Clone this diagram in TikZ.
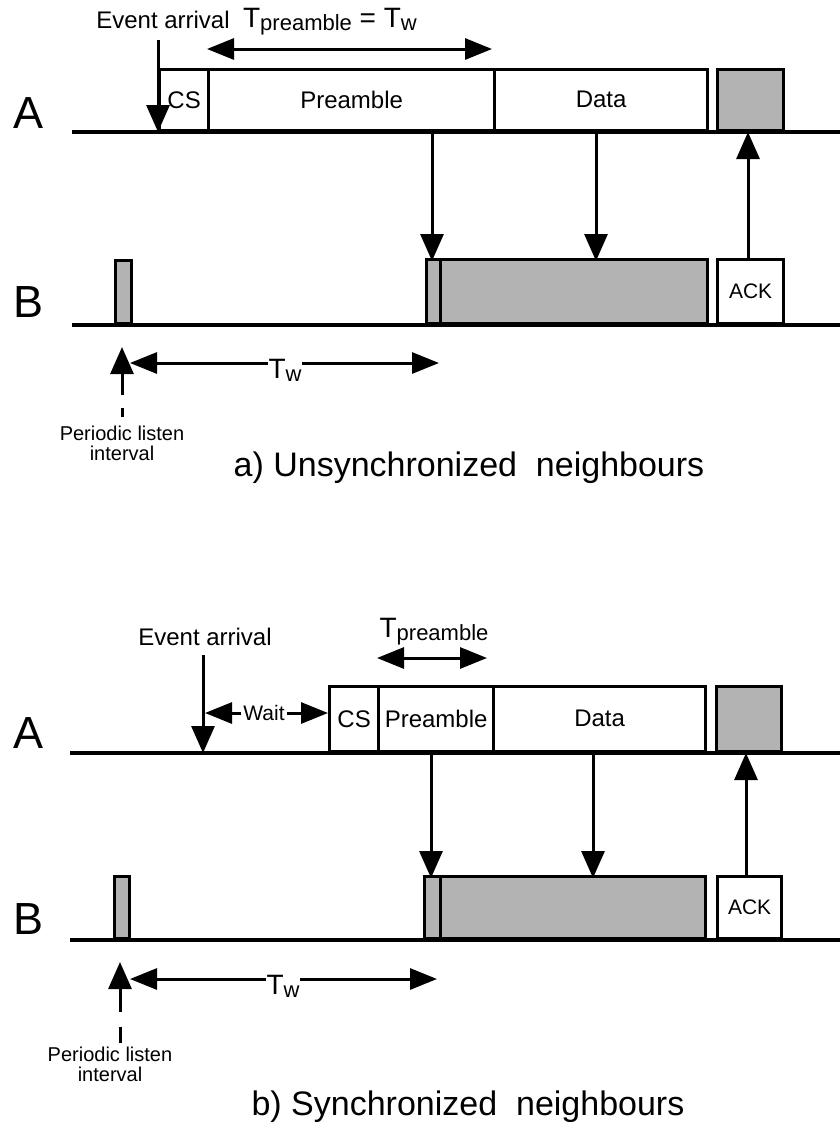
\documentclass[tikz,border=0pt]{standalone}
\usepackage{fontspec}
\setmainfont{Liberation Sans}
\usetikzlibrary{arrows.meta}
\definecolor{busygray}{HTML}{B3B3B3}
\newcommand{\fsz}[1]{\fontsize{#1}{#1}\selectfont}
\newcommand{\Tsub}[1]{{\fsz{28}T}\raisebox{-0.32em}{\fsz{22}#1}}

\tikzset{
  sig/.style={line width=3.3pt},
  slot/.style={draw, line width=3.3pt, inner sep=0pt, anchor=south west, font=\fsz{24}},
  busy/.style={slot, fill=busygray},
  msg/.style={-{Triangle[length=27pt,width=23pt]}, line width=3pt},
  span/.style={{Triangle[length=27pt,width=21pt]}-{Triangle[length=27pt,width=21pt]}, line width=3pt},
  station/.style={font=\fsz{45}, inner sep=0pt},
  note/.style={font=\fsz{24}, inner sep=0pt},
  small/.style={font=\fsz{20}, inner sep=0pt, align=center},
  caption/.style={font=\fsz{34}, inner sep=0pt},
}

\begin{document}
\begin{tikzpicture}[x=1pt, y=-1pt]
\useasboundingbox (0,0) rectangle (840,1136);

% ---------------- a) Unsynchronized neighbours ----------------
\node[station] (Aa) at (29,113) {A};
\node[station] (Ba) at (29,302) {B};
\coordinate (Aa0) at (72,132);  \coordinate (Aa1) at (840,132);
\coordinate (Ba0) at (72,325);  \coordinate (Ba1) at (840,325);
\draw[sig] (Aa0) -- (Aa1);
\draw[sig] (Ba0) -- (Ba1);

% sender A
\node[slot, minimum width=49pt,  minimum height=61pt] (csa)   at (158,132) {CS};
\node[slot, minimum width=286pt, minimum height=61pt] (prea)  at (207,132) {Preamble};
\node[slot, minimum width=213pt, minimum height=61pt] (dataa) at (493,132) {Data};
\node[busy, minimum width=66pt,  minimum height=61pt] (acka)  at (716,132) {};

% receiver B
\node[busy, minimum width=16pt,  minimum height=63pt] (lsta)  at (114,325) {};
\node[busy, minimum width=14pt,  minimum height=64pt] (rxpa)  at (425,325) {};
\node[busy, minimum width=267pt, minimum height=64pt] (rxda)  at (439,325) {};
\node[slot, minimum width=66pt,  minimum height=64pt, font=\fsz{21}] (ackba) at (716,325) {ACK};

% event
\node[note] (eva) at (163,20) {Event arrival};
\coordinate (evta) at (158,40);
\coordinate (evba) at (158,132);
\draw[msg] (evta) -- (evba);

% preamble length
\coordinate (tpla) at (207,49); \coordinate (tpra) at (492,49);
\draw[span] (tpla) -- (tpra);
\node[inner sep=0pt] (tpa) at (330,22) {\Tsub{preamble}{\fsz{28} = }\Tsub{w}};

% transfers
\coordinate (m1a) at (432,132); \coordinate (m1b) at (432,261);
\coordinate (m2a) at (596,132); \coordinate (m2b) at (596,261);
\coordinate (m3a) at (748,261); \coordinate (m3b) at (748,132);
\draw[msg] (m1a) -- (m1b);
\draw[msg] (m2a) -- (m2b);
\draw[msg] (m3a) -- (m3b);

% wake-up interval
\coordinate (twla) at (130,363); \coordinate (twra) at (439,363);
\draw[span] (twla) -- (twra);
\node[fill=white, inner xsep=1pt, inner ysep=0pt] (twa) at (285,370) {\Tsub{w}};

\coordinate (pla) at (122,417); \coordinate (plb) at (122,347);
\draw[msg, dash pattern=on 9pt off 13pt on 90pt] (pla) -- (plb);
\node[small] (pna) at (122,443) {Periodic listen\\interval};

\node[caption] (capa) at (469,468) {a) Unsynchronized\ \ neighbours};

% ---------------- b) Synchronized neighbours ----------------
\node[station] (Ab) at (29,733) {A};
\node[station] (Bb) at (29,919) {B};
\coordinate (Ab0) at (70,753);  \coordinate (Ab1) at (840,753);
\coordinate (Bb0) at (70,940);  \coordinate (Bb1) at (840,940);
\draw[sig] (Ab0) -- (Ab1);
\draw[sig] (Bb0) -- (Bb1);

% sender A
\node[slot, minimum width=49pt,  minimum height=65pt] (csb)   at (328,753) {CS};
\node[slot, minimum width=115pt, minimum height=65pt] (preb)  at (377,753) {Preamble};
\node[slot, minimum width=212pt, minimum height=65pt] (datab) at (492,753) {Data};
\node[busy, minimum width=65pt,  minimum height=65pt] (ackb)  at (715,753) {};

% receiver B
\node[busy, minimum width=15pt,  minimum height=62pt] (lstb)  at (113,940) {};
\node[busy, minimum width=16pt,  minimum height=62pt] (rxpb)  at (423,940) {};
\node[busy, minimum width=265pt, minimum height=62pt] (rxdb)  at (439,940) {};
\node[slot, minimum width=64pt,  minimum height=62pt, font=\fsz{21}] (ackbb) at (716,940) {ACK};

% event and waiting time
\node[note] (evb) at (205,637) {Event arrival};
\coordinate (evtb) at (203,655);
\coordinate (evbb) at (203,753);
\draw[msg] (evtb) -- (evbb);

\coordinate (wl) at (205,713); \coordinate (wr) at (328,713);
\draw[span] (wl) -- (wr);
\node[fill=white, inner xsep=2pt, inner ysep=1pt, font=\fsz{21}] (wait) at (264,713) {Wait};

% preamble length
\coordinate (tplb) at (377,658); \coordinate (tprb) at (487,658);
\draw[span] (tplb) -- (tprb);
\node[inner sep=0pt] (tpb) at (434,632) {\Tsub{preamble}};

% transfers
\coordinate (n1a) at (431,753); \coordinate (n1b) at (431,878);
\coordinate (n2a) at (593,753); \coordinate (n2b) at (593,878);
\coordinate (n3a) at (746,878); \coordinate (n3b) at (746,753);
\draw[msg] (n1a) -- (n1b);
\draw[msg] (n2a) -- (n2b);
\draw[msg] (n3a) -- (n3b);

% wake-up interval
\coordinate (twlb) at (130,979); \coordinate (twrb) at (437,979);
\draw[span] (twlb) -- (twrb);
\node[fill=white, inner xsep=1pt, inner ysep=0pt] (twb) at (283,986) {\Tsub{w}};

\coordinate (plc) at (120,1043); \coordinate (pld) at (120,962);
\draw[msg, dash pattern=on 16pt off 15pt on 90pt] (plc) -- (pld);
\node[small] (pnb) at (110,1064) {Periodic listen\\interval};

\node[caption] (capb) at (468,1107) {b) Synchronized\ \ neighbours};
\end{tikzpicture}
\end{document}
